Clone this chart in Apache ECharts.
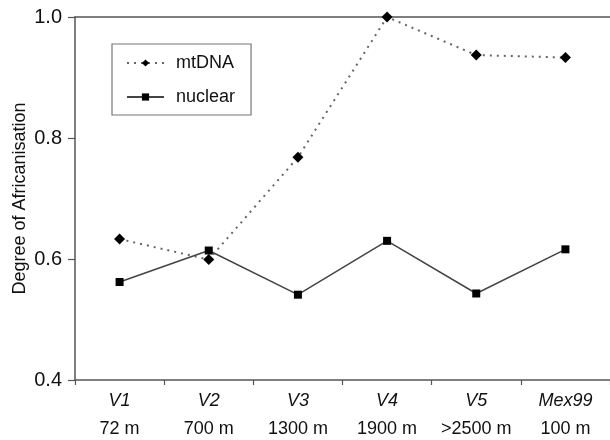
<!DOCTYPE html>
<html>
<head>
<meta charset="utf-8">
<script src="https://cdn.jsdelivr.net/npm/echarts@6/dist/echarts.min.js"></script>
<style>
  html, body { margin: 0; padding: 0; background: #fff; }
  #chart { width: 610px; height: 440px; }
</style>
</head>
<body>
<div id="chart"></div>
<script>
// sites and altitude
const sites = ['V1', 'V2', 'V3', 'V4', 'V5', 'Mex99'];
const altitudes = ['72 m', '700 m', '1300 m', '1900 m', '>2500 m', '100 m'];

// degree of africanisation per marker
const mtDNA = [0.633, 0.599, 0.768, 1.0, 0.937, 0.933];
const nuclear = [0.562, 0.614, 0.541, 0.630, 0.543, 0.616];

const yTicks = [0.4, 0.6, 0.8, 1.0];

const font = 'Liberation Sans, Arial, sans-serif';
const axisColor = '#555';

const chart = echarts.init(document.getElementById('chart'), null, { renderer: 'canvas' });

const option = {
  animation: false,
  backgroundColor: '#fff',
  textStyle: { fontFamily: font, color: '#111' },
  grid: { left: 75, right: 0, top: 17, bottom: 60, containLabel: false, outerBoundsMode: 'none' },
  legend: {
    left: 112,
    top: 44,
    orient: 'vertical',
    itemWidth: 37,
    itemHeight: 9,
    itemGap: 16,
    padding: [10, 16, 9, 14],
    borderColor: '#777',
    borderWidth: 1.2,
    textStyle: { fontSize: 18, color: '#111', fontFamily: font, padding: [0, 0, 0, 7] },
    data: ['mtDNA', 'nuclear']
  },
  xAxis: [{
    type: 'category',
    data: sites.map((s, i) => s + '\n' + altitudes[i]),
    boundaryGap: true,
    axisLine: { lineStyle: { color: axisColor, width: 1.5 } },
    axisTick: { show: true, length: 5, lineStyle: { color: axisColor, width: 1.2 } },
    axisLabel: {
      margin: 6,
      interval: 0,
      formatter: (v) => {
        const p = v.split('\n');
        return '{a|' + p[0] + '}\n{b|' + p[1] + '}';
      },
      rich: {
        a: { fontStyle: 'italic', fontSize: 18, lineHeight: 29, color: '#111', fontFamily: font },
        b: { fontSize: 18, lineHeight: 29, color: '#111', fontFamily: font }
      }
    },
    splitLine: { show: false }
  }, {
    type: 'category',
    position: 'top',
    data: sites,
    axisLine: { show: true, lineStyle: { color: axisColor, width: 1.5 } },
    axisTick: { show: false },
    axisLabel: { show: false }
  }],
  yAxis: {
    type: 'value',
    min: yTicks[0],
    max: yTicks[yTicks.length - 1],
    interval: 0.2,
    name: 'Degree of Africanisation',
    nameLocation: 'middle',
    nameGap: 46,
    nameMoveOverlap: false,
    nameTextStyle: { fontSize: 18, color: '#111', fontFamily: font },
    axisLine: { show: true, lineStyle: { color: axisColor, width: 1.5 } },
    axisTick: { show: true, length: 7, lineStyle: { color: axisColor, width: 1.2 } },
    axisLabel: {
      margin: 13,
      fontSize: 20,
      color: '#111',
      formatter: (v) => v.toFixed(1)
    },
    splitLine: { show: false }
  },
  series: [{
    name: 'mtDNA',
    type: 'line',
    data: mtDNA,
    symbol: 'diamond',
    symbolSize: 11,
    itemStyle: { color: '#000' },
    lineStyle: { color: '#666', width: 2, type: [2, 5] },
    z: 3
  }, {
    name: 'nuclear',
    type: 'line',
    data: nuclear,
    symbol: 'rect',
    symbolSize: 8,
    itemStyle: { color: '#000' },
    lineStyle: { color: '#444', width: 1.5, type: 'solid' },
    z: 4
  }]
};

chart.setOption(option);
</script>
</body>
</html>
